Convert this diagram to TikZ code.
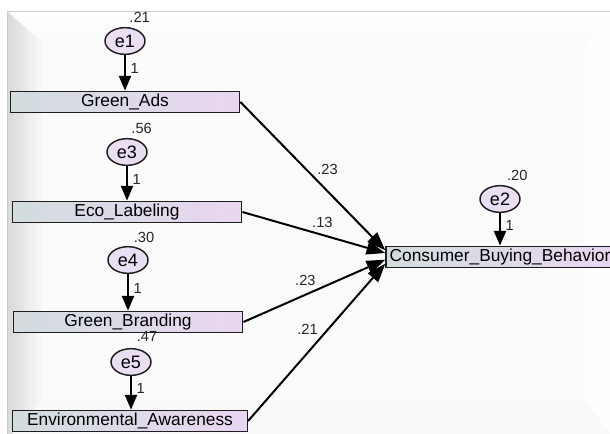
\documentclass[tikz,border=0pt]{standalone}
\usepackage{fontspec}
\setmainfont{Liberation Sans}
\usetikzlibrary{arrows.meta,shapes.geometric}
\definecolor{boxleft}{RGB}{210,221,223}
\definecolor{boxright}{RGB}{233,214,241}
\definecolor{errfill}{RGB}{234,222,243}
\definecolor{edgecol}{RGB}{30,30,30}

\begin{document}
\begin{tikzpicture}[x=0.75pt, y=-0.75pt, ->, >={Triangle[length=11pt,width=9pt]}, line width=1.5pt,
    obs/.style={rectangle, draw=edgecol, line width=1.1pt, left color=boxleft, right color=boxright, minimum width=172pt, minimum height=16pt, inner sep=1pt, font=\fontsize{13}{15}\selectfont},
    err/.style={ellipse, draw=edgecol, line width=1.1pt, fill=errfill, minimum width=30pt, minimum height=20pt, inner sep=0pt, font=\fontsize{13.5}{15}\selectfont},
    lbl/.style={font=\fontsize{11}{12}\selectfont, text=black!85, inner sep=1.5pt},
    path/.style={->, >={Triangle[length=14pt,width=10pt]}}]
    \useasboundingbox (0,0) rectangle (610,433);
    \clip (0,0) rectangle (610,433);

    % panel behind the model
    \begin{scope}[-]
        \fill[white] (0,0) rectangle (610,433);
        \fill[gray!5] (7,11) rectangle (615,440);
        \shade[left color=gray!30, right color=gray!5] (7,11) -- (42,42) -- (42,400) -- (7,440) -- cycle;
        \shade[top color=white, bottom color=gray!4] (7,11) -- (615,11) -- (585,42) -- (42,42) -- cycle;
        \fill[gray!1] (585,42) -- (615,11) -- (615,440) -- (585,400) -- cycle;
        \fill[gray!3] (42,42) rectangle (585,400);
        \draw[gray!40, line width=0.6pt] (7,440) -- (7,11) -- (615,11);
    \end{scope}

    % observed variables
    \node[obs] (ga) at (125,102) {Green\_Ads};
    \node[obs] (el) at (127,212) {Eco\_Labeling};
    \node[obs] (gb) at (128,322) {Green\_Branding};
    \node[obs, minimum width=176pt] (ea) at (130,421) {Environmental\_Awareness};
    \node[obs, minimum width=171pt] (cbb) at (500,257) {Consumer\_Buying\_Behavior};

    % error terms
    \node[err] (e1) at (125,41) {e1};
    \node[err] (e3) at (127,152) {e3};
    \node[err] (e4) at (128,260) {e4};
    \node[err] (e5) at (131,362) {e5};
    \node[err] (e2) at (500,199) {e2};

    \node[lbl] (v1) at ([shift={(11pt,18pt)}]e1.center) {.21};
    \node[lbl] (v3) at ([shift={(11pt,18pt)}]e3.center) {.56};
    \node[lbl] (v4) at ([shift={(12pt,17pt)}]e4.center) {.30};
    \node[lbl] (v5) at ([shift={(12pt,19pt)}]e5.center) {.47};
    \node[lbl] (v2) at ([shift={(13pt,18pt)}]e2.center) {.20};

    \draw (e1.south) -- (e1.south |- ga.north) node[lbl, pos=0.38, right=2pt] {1};
    \draw (e3.south) -- (e3.south |- el.north) node[lbl, pos=0.38, right=2pt] {1};
    \draw (e4.south) -- (e4.south |- gb.north) node[lbl, pos=0.38, right=2pt] {1};
    \draw (e5.south) -- (e5.south |- ea.north) node[lbl, pos=0.38, right=2pt] {1};
    \draw (e2.south) -- (e2.south |- cbb.north) node[lbl, pos=0.38, right=2pt] {1};

    % regression paths
    \draw[path] (ga.east) -- ([yshift=5pt]cbb.west) node[lbl, pos=0.51, above right] {.23};
    \draw[path] (el.east) -- ([yshift=3pt]cbb.west) node[lbl, pos=0.56, above=3pt] {.13};
    \draw[path] (gb.east) -- ([yshift=-2pt]cbb.west) node[lbl, pos=0.53, above left] {.23};
    \draw[path] (ea.east) -- ([yshift=-5pt]cbb.west) node[lbl, pos=0.53, above left] {.21};
\end{tikzpicture}
\end{document}
